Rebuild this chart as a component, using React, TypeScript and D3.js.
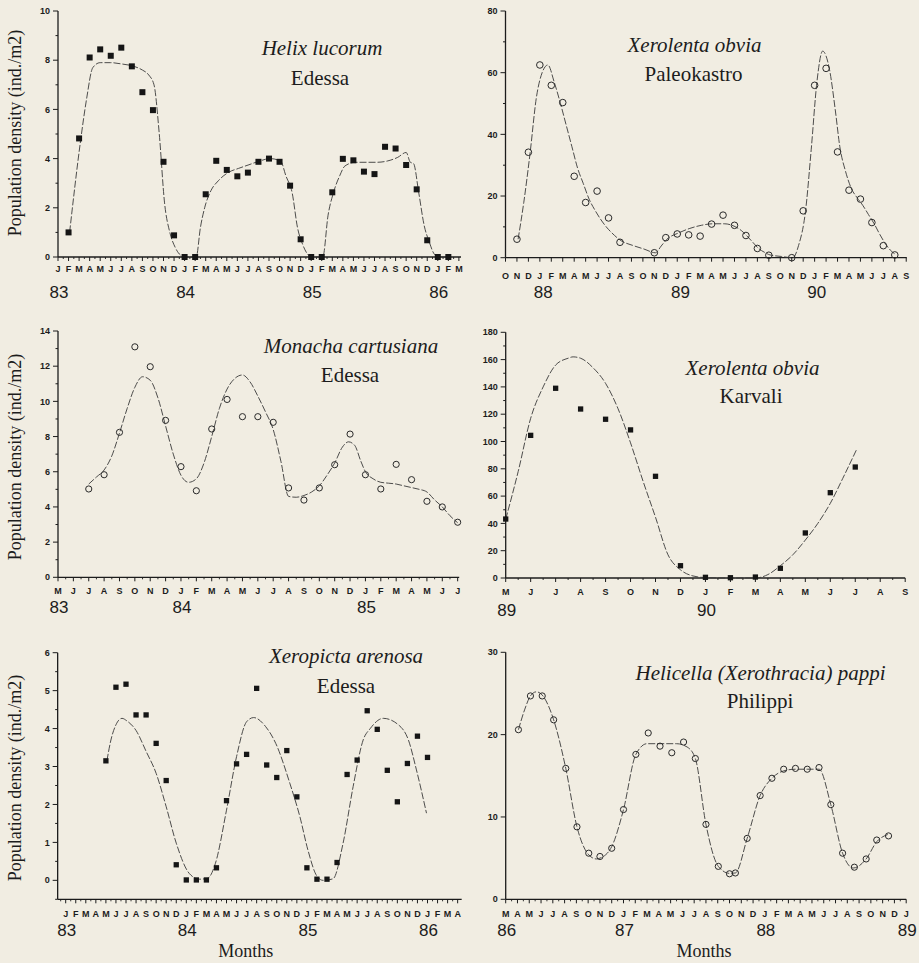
import React from 'react';
import * as d3 from 'd3';

// ---------- shared ----------
const MONTH_LETTERS = ['J', 'F', 'M', 'A', 'M', 'J', 'J', 'A', 'S', 'O', 'N', 'D'];
const Y_TITLE = 'Population density (ind./m2)';
const X_TITLE = 'Months';

// ---------- Panel 1: Helix lucorum, Edessa (months from Jan 83 = 0) ----------
const helixStart = 1;
const helixValues = [1.0, 4.82, 8.11, 8.44, 8.18, 8.51, 7.75, 6.7, 5.97, 3.87, 0.88, 0, 0,
  2.55, 3.91, 3.54, 3.28, 3.43, 3.87, 4.0, 3.87, 2.9, 0.72, 0, 0,
  2.63, 3.99, 3.93, 3.47, 3.37, 4.48, 4.41, 3.74, 2.75, 0.68, 0, 0];
const helixFit: [number, number][] = [
  [1.1, 1.0], [2.1, 4.6], [2.7, 6.4], [3.3, 7.7], [4.0, 7.9], [5.0, 7.9], [6.0, 7.85], [7.2, 7.75],
  [8.0, 7.6], [8.6, 7.4], [9.1, 7.0], [9.6, 5.0], [10.1, 2.2], [10.6, 1.0], [11.1, 0.4], [11.7, 0.05],
  [12.1, 0], [13.1, 0], [13.5, 1.2], [13.9, 2.0], [14.5, 2.7], [15.2, 3.1], [16.2, 3.45], [17.1, 3.6],
  [18.1, 3.75], [19.1, 3.9], [20.1, 4.0], [21.1, 3.9], [21.6, 3.3], [22.2, 2.6], [22.7, 1.2], [23.2, 0.5],
  [23.8, 0.05], [24.1, 0], [25.1, 0], [25.6, 1.7], [26.1, 2.6], [26.7, 3.3], [27.2, 3.7], [28.2, 3.85],
  [29.2, 3.85], [30.2, 3.85], [31.2, 3.9], [32.2, 4.05], [33.0, 4.25], [33.4, 3.85], [33.7, 3.8],
  [34.2, 2.6], [34.7, 1.3], [35.2, 0.6], [35.7, 0.1], [36.2, 0], [37.2, 0]];
const helixYears: [string, number][] = [['83', 0], ['84', 12], ['85', 24], ['86', 36]];

// ---------- Panel 2: Xerolenta obvia, Paleokastro (months from Oct 87 = 0) ----------
const paleoStart = 1;
const paleoValues: (number | null)[] = [6.0, 34.2, 62.5, 55.9, 50.3, 26.4, 17.9, 21.6, 12.9, 5.0, null, null,
  1.6, 6.5, 7.7, 7.4, 7.0, 10.9, 13.8, 10.5, 7.2, 3.0, 0.8, null, 0.0,
  15.2, 55.9, 61.4, 34.3, 21.9, 19.0, 11.4, 3.9, 0.9];
const paleoFit: [number, number][] = [
  [1.1, 6], [1.6, 18], [2.15, 34], [2.7, 52], [3.2, 60], [3.7, 62.5], [4.25, 57], [4.8, 50], [5.3, 43],
  [5.8, 36], [6.3, 29], [6.8, 24], [7.3, 19], [7.8, 15.5], [8.3, 12.5], [8.8, 10], [9.3, 8], [10.1, 5.5],
  [11.1, 4], [12.1, 2.8], [13.1, 1.6], [13.6, 3.8], [14.1, 6], [15.1, 8], [16.1, 9.5], [17.1, 10.5],
  [18.1, 11], [19.1, 11], [20.1, 10], [20.6, 8.8], [21.1, 7], [21.6, 5], [22.1, 3], [22.6, 1.8],
  [23.1, 0.9], [24.1, 0.4], [25.1, 0], [25.6, 4], [26.2, 15], [26.7, 35], [27.2, 57], [27.7, 67],
  [28.3, 61], [28.8, 48], [29.2, 36], [29.7, 28], [30.2, 22.5], [30.7, 19.5], [31.2, 17], [31.7, 14],
  [32.2, 11], [32.7, 7.5], [33.1, 5], [33.6, 2.5], [34.1, 1]];
const paleoYears: [string, number][] = [['88', 3.2], ['89', 15.2], ['90', 27.1]];

// ---------- Panel 3: Monacha cartusiana, Edessa (months from May 83 = 0) ----------
const monachaStart = 2;
const monachaValues = [5.02, 5.83, 8.24, 13.1, 11.97, 8.92, 6.29, 4.92, 8.43, 10.11, 9.13, 9.13, 8.81,
  5.08, 4.39, 5.08, 6.4, 8.14, 5.83, 5.02, 6.42, 5.55, 4.32, 4.0, 3.13];
const monachaFit: [number, number][] = [
  [2, 5.3], [2.5, 5.7], [3, 6.1], [3.5, 6.9], [4, 8.2], [4.5, 9.6], [5, 10.8], [5.5, 11.4], [6, 11.2],
  [6.5, 10.2], [7, 8.6], [7.5, 7.0], [8, 5.8], [8.5, 5.4], [9, 5.6], [9.5, 6.5], [10, 8.0], [10.5, 9.6],
  [11, 10.7], [11.5, 11.3], [12, 11.5], [12.5, 11.1], [13, 10.3], [13.5, 9.4], [14, 8.4], [14.5, 6.6],
  [15, 4.6], [15.5, 4.55], [16, 4.65], [16.5, 4.85], [17, 5.2], [17.5, 5.8], [18, 6.5], [18.5, 7.4],
  [18.9, 7.7], [19.3, 7.5], [19.7, 6.6], [20, 6.0], [20.5, 5.6], [21, 5.4], [21.5, 5.35], [22, 5.3],
  [22.5, 5.2], [23, 5.1], [23.5, 5.0], [24, 4.85], [24.5, 4.4], [25, 4.0], [25.5, 3.5], [26, 3.1]];
const monachaYears: [string, number][] = [['83', 0], ['84', 8], ['85', 20]];

// ---------- Panel 4: Xerolenta obvia, Karvali (months from May 89 = 0) ----------
const karvaliStart = 0;
const karvaliValues = [43.2, 104.5, 139, 123.8, 116.3, 108.5, 74.5, 9.0, 0.5, 0.2, 0.7, 7.1, 33, 62.5, 81.3];
const karvaliFit: [number, number][] = [
  [0, 43], [0.5, 78], [1, 117], [1.5, 140], [2, 156], [2.5, 161], [2.7, 162], [3, 161], [3.5, 154],
  [4, 142.6], [4.5, 124], [5, 99], [5.5, 71], [6, 44.5], [6.5, 17], [7, 6], [7.5, 1.5], [8, 0.3],
  [9, 0], [10, 0], [10.5, 2.5], [11, 9], [11.5, 17], [12, 27.8], [12.5, 40], [13, 54.7], [13.5, 73],
  [14.05, 94]];
const karvaliYears: [string, number][] = [['89', 0], ['90', 8]];

// ---------- Panel 5: Xeropicta arenosa, Edessa (months from Jan 83 = 0) ----------
const xeropictaStart = 4;
const xeropictaValues = [3.15, 5.09, 5.17, 4.36, 4.36, 3.61, 2.63, 0.41, 0.01, 0.01, 0.01, 0.33, 2.1,
  3.07, 3.32, 5.06, 3.04, 2.71, 3.42, 2.2, 0.33, 0.03, 0.03, 0.47, 2.79, 3.17, 4.47, 3.98, 2.9, 2.07,
  3.08, 3.8, 3.24];
const xeropictaFit: [number, number][] = [
  [4.1, 3.15], [4.5, 3.7], [5.0, 4.1], [5.6, 4.27], [6.1, 4.2], [7.0, 3.95], [8.0, 3.4], [9.0, 2.82],
  [10.0, 1.94], [11.0, 0.98], [12.3, 0.18], [13.3, 0.03], [14.1, 0.05], [14.9, 0.45], [16.0, 1.85],
  [17.0, 3.26], [18.0, 4.18], [18.7, 4.29], [19.9, 4.05], [20.9, 3.61], [22.3, 2.56], [23.3, 1.68],
  [24.1, 0.8], [25.0, 0.11], [25.6, 0], [26.6, 0.04], [27.6, 0.98], [28.6, 2.47], [29.6, 3.7],
  [30.3, 4.0], [31.6, 4.27], [33.1, 4.1], [34.1, 3.7], [34.9, 2.91], [35.9, 1.77]];
const xeropictaYears: [string, number][] = [['83', 0], ['84', 12], ['85', 24], ['86', 36]];

// ---------- Panel 6: Helicella (Xerothracia) pappi, Philippi (months from Mar 86 = 0) ----------
const pappiMonths = [1.08, 2.1, 3.1, 4.07, 5.1, 6.05, 7.05, 8.0, 9.0, 10.0, 11.05, 12.1, 13.1, 14.1,
  15.1, 16.1, 17.0, 18.05, 19.0, 19.5, 20.5, 21.6, 22.6, 23.6, 24.6, 25.6, 26.6, 27.6, 28.6, 29.6,
  30.6, 31.5, 32.5];
const pappiValues = [20.6, 24.7, 24.7, 21.8, 15.9, 8.8, 5.6, 5.2, 6.2, 10.9, 17.6, 20.2, 18.6, 17.8,
  19.1, 17.1, 9.1, 4.0, 3.1, 3.2, 7.4, 12.6, 14.7, 15.8, 15.9, 15.8, 16.0, 11.5, 5.6, 3.9, 4.9, 7.2, 7.7];
const pappiFit: [number, number][] = [
  [1.08, 20.6], [1.6, 23], [2.1, 24.7], [2.6, 25.2], [3.1, 24.8], [4.07, 21.8], [5.1, 15.9],
  [6.05, 8.8], [7.05, 5.4], [7.7, 4.9], [8.0, 5.0], [9.0, 6.4], [10.0, 10.9], [11.05, 17.6],
  [12.0, 18.9], [13.1, 18.9], [14.5, 18.9], [15.4, 18.5], [16.1, 17.1], [17.0, 9.1], [18.05, 4.0],
  [19.0, 3.15], [19.5, 3.2], [20.5, 7.4], [21.6, 12.6], [22.6, 14.7], [23.6, 15.6], [24.6, 15.8],
  [25.6, 15.8], [26.6, 15.8], [27.6, 11.5], [28.6, 5.6], [29.5, 3.8], [30.6, 4.9], [31.5, 7.0],
  [32.5, 7.9]];
const pappiYears: [string, number][] = [['86', 0], ['87', 10], ['88', 22], ['89', 34]];

// ---------- layout ----------
const BG = '#f1ede2';
const INK = '#1c1c1c';
const SERIF = '"Liberation Serif", "Times New Roman", serif';
const SANS = '"Liberation Sans", Arial, sans-serif';

type Cfg = {
  key: string;
  xDomain: [number, number];
  xRange: [number, number];
  yDomain: [number, number];
  yRange: [number, number];
  yMajor: number;
  yMinor: number | null;
  monthStart: number;
  monthFirst: number;
  monthLast: number;
  xMinor: boolean;
  years: [string, number][];
  points: [number, number][];
  fit: [number, number][];
  marker: 'square' | 'circle';
  markerSize: number;
  title: string;
  site: string;
  titlePos: [number, number];
  sitePos: [number, number];
  monthY: number;
  yearY: number;
  yTitleY?: number;
  xTitle?: [number, number];
};

function seq(start: number, vals: (number | null)[]): [number, number][] {
  const out: [number, number][] = [];
  vals.forEach((v, i) => { if (v !== null) out.push([start + i, v]); });
  return out;
}

const panels: Cfg[] = [
  {
    key: 'p1', xDomain: [0, 38.2], xRange: [58, 461], yDomain: [0, 10], yRange: [257, 11],
    yMajor: 2, yMinor: 1, monthStart: 0, monthFirst: 0, monthLast: 38, xMinor: true,
    years: helixYears, points: seq(helixStart, helixValues), fit: helixFit,
    marker: 'square', markerSize: 6, title: 'Helix lucorum', site: 'Edessa',
    titlePos: [322, 55], sitePos: [320, 85], monthY: 271.5, yearY: 298, yTitleY: 133,
  },
  {
    key: 'p2', xDomain: [0, 35.05], xRange: [505.5, 906.8], yDomain: [0, 80], yRange: [257.7, 11],
    yMajor: 20, yMinor: 10, monthStart: 9, monthFirst: 0, monthLast: 35, xMinor: false,
    years: paleoYears, points: seq(paleoStart, paleoValues), fit: paleoFit,
    marker: 'circle', markerSize: 3.3, title: 'Xerolenta obvia', site: 'Paleokastro',
    titlePos: [694.5, 52], sitePos: [693.5, 81], monthY: 278.5, yearY: 298,
  },
  {
    key: 'p3', xDomain: [0, 26.1], xRange: [58, 459.2], yDomain: [0, 14], yRange: [577.3, 331],
    yMajor: 2, yMinor: 1, monthStart: 4, monthFirst: 0, monthLast: 26, xMinor: true,
    years: monachaYears, points: seq(monachaStart, monachaValues), fit: monachaFit,
    marker: 'circle', markerSize: 3.1, title: 'Monacha cartusiana', site: 'Edessa',
    titlePos: [351, 353], sitePos: [350, 382], monthY: 594, yearY: 613, yTitleY: 457,
  },
  {
    key: 'p4', xDomain: [0, 16], xRange: [505.7, 905.2], yDomain: [0, 180], yRange: [578, 332.3],
    yMajor: 20, yMinor: 10, monthStart: 4, monthFirst: 0, monthLast: 16, xMinor: true,
    years: karvaliYears, points: seq(karvaliStart, karvaliValues), fit: karvaliFit,
    marker: 'square', markerSize: 5.3, title: 'Xerolenta obvia', site: 'Karvali',
    titlePos: [752.5, 375], sitePos: [751, 403], monthY: 595, yearY: 615.5,
  },
  {
    key: 'p5', xDomain: [-0.8, 39.4], xRange: [57.66, 461.67], yDomain: [-0.5, 6], yRange: [899.3, 652.7],
    yMajor: 1, yMinor: 0.5, monthStart: 0, monthFirst: 0, monthLast: 39, xMinor: true,
    years: xeropictaYears, points: seq(xeropictaStart, xeropictaValues), fit: xeropictaFit,
    marker: 'square', markerSize: 5.3, title: 'Xeropicta arenosa', site: 'Edessa',
    titlePos: [346, 663], sitePos: [346, 693], monthY: 916.5, yearY: 935.5, yTitleY: 778,
    xTitle: [245.7, 957],
  },
  {
    key: 'p6', xDomain: [0, 34], xRange: [505.7, 906.2], yDomain: [0, 30], yRange: [899.3, 652.3],
    yMajor: 10, yMinor: null, monthStart: 2, monthFirst: 0, monthLast: 34, xMinor: true,
    years: pappiYears, points: pappiMonths.map((m, i) => [m, pappiValues[i]] as [number, number]),
    fit: pappiFit, marker: 'circle', markerSize: 3.1, title: 'Helicella (Xerothracia) pappi', site: 'Philippi',
    titlePos: [760.5, 680], sitePos: [760, 708], monthY: 916.5, yearY: 935.5,
    xTitle: [704, 957],
  },
];

function Panel({ c }: { c: Cfg }) {
  const x = d3.scaleLinear().domain(c.xDomain).range(c.xRange);
  const y = d3.scaleLinear().domain(c.yDomain).range(c.yRange);
  const line = d3.line<[number, number]>()
    .x((d) => x(d[0]))
    .y((d) => y(d[1]))
    .curve(d3.curveMonotoneX);
  const ax = x(c.xDomain[0]);
  const ax1 = x(c.xDomain[1]);
  const yb = y(c.yDomain[0]);
  const yt = y(c.yDomain[1]);
  const yMajorTicks = d3.range(Math.max(0, c.yDomain[0]), c.yDomain[1] + 1e-9, c.yMajor);
  const yMinorTicks = c.yMinor
    ? d3.range(Math.ceil(c.yDomain[0] / c.yMinor) * c.yMinor, c.yDomain[1], c.yMinor)
      .filter((v) => Math.abs(v / c.yMajor - Math.round(v / c.yMajor)) > 1e-6)
    : [];
  const months = d3.range(c.monthFirst, c.monthLast + 1);
  const majorX = d3.range(Math.ceil(c.xDomain[0]), Math.floor(c.xDomain[1]) + 1);
  const minorX = c.xMinor ? d3.range(Math.ceil(c.xDomain[0] - 0.5) + 0.5, c.xDomain[1], 1) : [];

  return (
    <g>
      <line x1={ax} x2={ax} y1={yt} y2={yb} stroke={INK} strokeWidth={1.3} />
      <line x1={ax} x2={ax1} y1={yb} y2={yb} stroke={INK} strokeWidth={1.3} />
      {yMajorTicks.map((v) => (
        <g key={'ym' + v}>
          <line x1={ax - 5} x2={ax} y1={y(v)} y2={y(v)} stroke={INK} strokeWidth={1} />
          <text x={ax - 8} y={y(v)} dy="0.35em" textAnchor="end" fontFamily={SANS}
            fontWeight="bold" fontSize={9} fill={INK}>{v}</text>
        </g>
      ))}
      {yMinorTicks.map((v) => (
        <line key={'yn' + v} x1={ax - 2.5} x2={ax} y1={y(v)} y2={y(v)} stroke={INK} strokeWidth={1} />
      ))}
      {majorX.map((m) => (
        <line key={'xm' + m} x1={x(m)} x2={x(m)} y1={yb} y2={yb + 4} stroke={INK} strokeWidth={1} />
      ))}
      {minorX.map((m) => (
        <line key={'xn' + m} x1={x(m)} x2={x(m)} y1={yb} y2={yb + 2} stroke={INK} strokeWidth={0.9} />
      ))}
      {months.map((m) => (
        <text key={'ml' + m} x={x(m)} y={c.monthY} textAnchor="middle" fontFamily={SANS}
          fontWeight="bold" fontSize={9} fill={INK}>{MONTH_LETTERS[(c.monthStart + m) % 12]}</text>
      ))}
      {c.years.map(([lab, m]) => (
        <text key={'yr' + lab} x={x(m) + 1} y={c.yearY} textAnchor="middle" fontFamily={SANS}
          fontSize={17} fill={INK}>{lab}</text>
      ))}
      <path d={line(c.fit) || ''} fill="none" stroke="#3a3a3a" strokeWidth={0.9}
        strokeDasharray="7 2" />
      {c.points.map(([m, v], i) => c.marker === 'square' ? (
        <rect key={'pt' + i} x={x(m) - c.markerSize / 2} y={y(v) - c.markerSize / 2}
          width={c.markerSize} height={c.markerSize} fill="#151515" />
      ) : (
        <circle key={'pt' + i} cx={x(m)} cy={y(v)} r={c.markerSize} fill="none"
          stroke="#2a2a2a" strokeWidth={1} />
      ))}
      <text x={c.titlePos[0]} y={c.titlePos[1]} textAnchor="middle" fontFamily={SERIF}
        fontStyle="italic" fontSize={21} fill={INK}>{c.title}</text>
      <text x={c.sitePos[0]} y={c.sitePos[1]} textAnchor="middle" fontFamily={SERIF}
        fontSize={21} fill={INK}>{c.site}</text>
      {c.yTitleY !== undefined && (
        <text transform={`translate(21,${c.yTitleY}) rotate(-90)`} textAnchor="middle"
          fontFamily={SERIF} fontSize={18} fill={INK}>{Y_TITLE}</text>
      )}
      {c.xTitle && (
        <text x={c.xTitle[0]} y={c.xTitle[1]} textAnchor="middle" fontFamily={SERIF}
          fontSize={18} fill={INK}>{X_TITLE}</text>
      )}
    </g>
  );
}

export default function App() {
  return (
    <svg width={919} height={963} viewBox="0 0 919 963"
      style={{ position: 'absolute', left: 0, top: 0, display: 'block' }}>
      <rect x={0} y={0} width={919} height={963} fill={BG} />
      {panels.map((c) => <Panel key={c.key} c={c} />)}
    </svg>
  );
}
